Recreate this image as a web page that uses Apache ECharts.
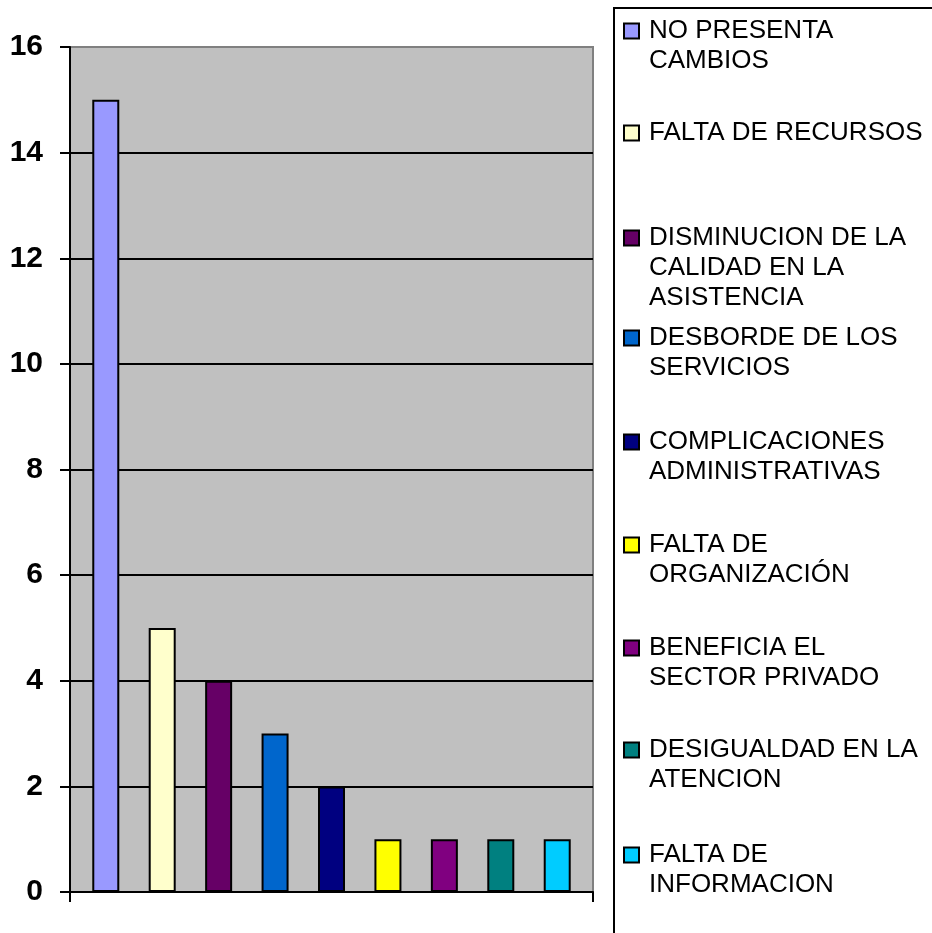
<!DOCTYPE html>
<html>
<head>
<meta charset="utf-8">
<script src="https://cdn.jsdelivr.net/npm/echarts@6/dist/echarts.min.js"></script>
<style>
  html, body { margin: 0; padding: 0; background: #fff; }
  #chart { width: 932px; height: 933px; }
</style>
</head>
<body>
<div id="chart"></div>
<script>
// ---- data ----
const categories = [''];
const seriesNames = [
  'NO PRESENTA CAMBIOS',
  'FALTA DE RECURSOS',
  'DISMINUCION DE LA CALIDAD EN LA ASISTENCIA',
  'DESBORDE DE LOS SERVICIOS',
  'COMPLICACIONES ADMINISTRATIVAS',
  'FALTA DE ORGANIZACIÓN',
  'BENEFICIA EL SECTOR PRIVADO',
  'DESIGUALDAD EN LA ATENCION',
  'FALTA DE INFORMACION'
];
const legendLines = [
  ['NO PRESENTA', 'CAMBIOS'],
  ['FALTA DE RECURSOS'],
  ['DISMINUCION DE LA', 'CALIDAD EN LA', 'ASISTENCIA'],
  ['DESBORDE DE LOS', 'SERVICIOS'],
  ['COMPLICACIONES', 'ADMINISTRATIVAS'],
  ['FALTA DE', 'ORGANIZACIÓN'],
  ['BENEFICIA EL', 'SECTOR PRIVADO'],
  ['DESIGUALDAD EN LA', 'ATENCION'],
  ['FALTA DE', 'INFORMACION']
];
const values = [15, 5, 4, 3, 2, 1, 1, 1, 1];
const colors = ['#9999FF', '#FFFFCC', '#660066', '#0066CC', '#000080', '#FFFF00', '#800080', '#008080', '#00CCFF'];
const yMin = 0, yMax = 16, yInterval = 2;

// ---- layout ----
const FONT = "'Liberation Sans', Arial, sans-serif";
const LH = 30;
const legendCapTops = [21, 123, 228, 328, 432, 535, 638, 740, 845];

const series = seriesNames.map((name, i) => ({
  name: name,
  type: 'bar',
  data: [values[i]],
  barWidth: 27,
  barGap: '109%',
  itemStyle: { color: colors[i], borderColor: '#000', borderWidth: 2 }
}));

const legends = seriesNames.map((name, i) => {
  const n = legendLines[i].length;
  return {
    orient: 'vertical',
    left: 623,
    top: legendCapTops[i] - 5 - (n - 1) * LH,
    padding: 0,
    data: [name],
    icon: 'rect',
    itemWidth: 15,
    itemHeight: 15,
    itemStyle: { borderColor: '#000', borderWidth: 2 },
    selectedMode: false,
    // leading blank lines keep the first text line level with the icon
    formatter: () => '\n'.repeat(n - 1) + legendLines[i].join('\n'),
    textStyle: {
      fontFamily: FONT,
      fontSize: 26,
      color: '#000',
      lineHeight: LH,
      padding: [0, 0, 0, 5]
    },
    z: 10
  };
});

const chart = echarts.init(document.getElementById('chart'), null, { renderer: 'canvas' });
chart.setOption({
  animation: false,
  backgroundColor: '#fff',
  graphic: [{
    type: 'rect',
    shape: { x: 614, y: 8, width: 400, height: 1000 },
    style: { fill: '#fff', stroke: '#000', lineWidth: 2 },
    z: -1
  }],
  grid: {
    left: 70, right: 339, top: 47, bottom: 41,
    show: true,
    backgroundColor: '#C0C0C0',
    borderColor: '#808080',
    borderWidth: 2
  },
  legend: legends,
  xAxis: {
    type: 'category',
    data: categories,
    axisLine: { show: true, lineStyle: { color: '#000', width: 2 } },
    axisTick: { show: true, length: 10, lineStyle: { color: '#000', width: 2 } },
    axisLabel: { show: false },
    splitLine: { show: false }
  },
  yAxis: {
    type: 'value',
    min: yMin, max: yMax, interval: yInterval,
    axisLine: { show: true, lineStyle: { color: '#000', width: 2 } },
    axisTick: { show: true, length: 10, lineStyle: { color: '#000', width: 2 } },
    axisLabel: { margin: 27, fontFamily: FONT, fontSize: 30, fontWeight: 'bold', color: '#000' },
    splitLine: { show: true, showMinLine: false, showMaxLine: false, lineStyle: { color: '#000', width: 2 } }
  },
  series: series
});
</script>
</body>
</html>
